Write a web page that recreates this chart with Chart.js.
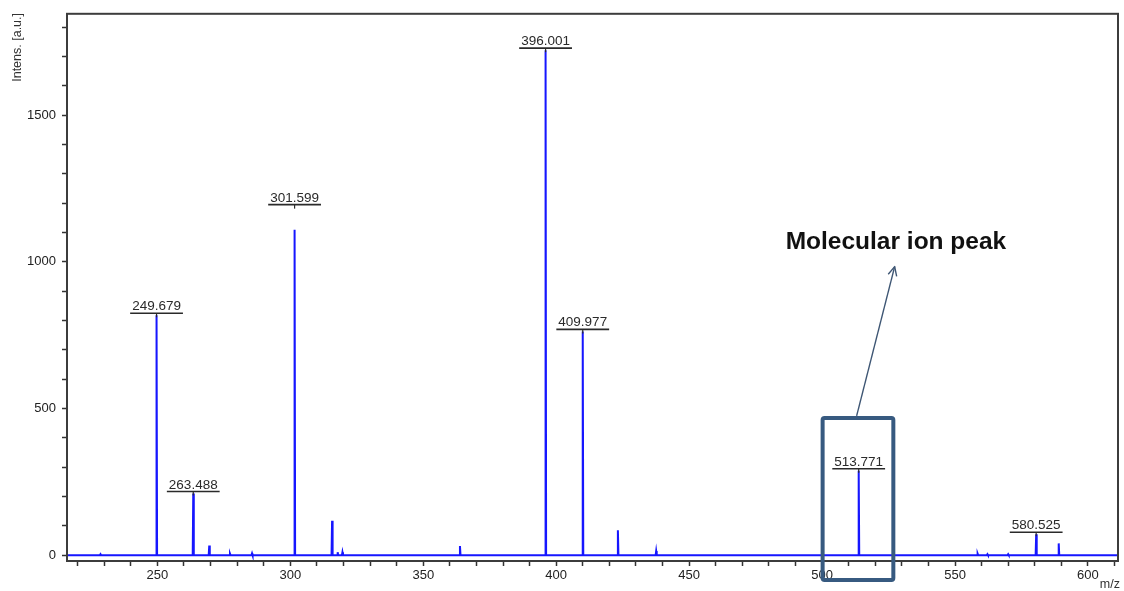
<!DOCTYPE html>
<html>
<head>
<meta charset="utf-8">
<script src="https://cdn.jsdelivr.net/npm/chart.js@4/dist/chart.umd.min.js"></script>
<style>
  html, body { margin: 0; padding: 0; background: #fff; }
  #wrap { width: 1124px; height: 591px; position: relative; }
</style>
</head>
<body>
<div id="wrap"><canvas id="spectrum"></canvas></div>
<script>
'use strict';

// Peaks (m/z, intensity in a.u.)
var peakMz        = [228.6, 249.679, 263.488, 269.5, 277.3, 285.6, 301.599, 315.7, 317.8, 319.6, 363.8, 396.001, 409.977, 423.2, 437.6, 513.771, 558.5, 562.2, 570.0, 580.525, 589.0];
var peakIntensity = [3,     818,     210,     33,    5,     6,     1110,    117,   10,    10,    31,    1722,    763,     85,    14,    288,     5,     3,     3,     71,      40];

// Labelled peaks
var labelMz   = [249.679, 263.488, 301.599, 396.001, 409.977, 513.771, 580.525];
var labelText = ['249.679', '263.488', '301.599', '396.001', '409.977', '513.771', '580.525'];

// Axis ranges and tick labels
var mzRange  = [216, 611.3];
var intRange = [-20, 1846];
var xTickLabels = [250, 300, 350, 400, 450, 500, 550, 600];
var yTickLabels = [0, 500, 1000, 1500];

function intensityAt(mz) {
  var i = peakMz.indexOf(mz);
  return i < 0 ? 0 : peakIntensity[i];
}

// stick spectrum: baseline with narrow spikes at each peak
function buildSpectrum() {
  var pts = [{ x: mzRange[0], y: 0 }];
  peakMz.forEach(function(m, i) {
    pts.push({ x: m - 0.2, y: 0 });
    pts.push({ x: m, y: peakIntensity[i] });
    pts.push({ x: m + 0.2, y: 0 });
  });
  pts.push({ x: mzRange[1], y: 0 });
  return pts;
}

var spectrumDecor = {
  id: 'spectrumDecor',
  afterDatasetsDraw: function(chart) {
    var ctx = chart.ctx, xs = chart.scales.x, ys = chart.scales.y, a = chart.chartArea;

    // peak labels with underline + small stem
    ctx.save();
    ctx.font = '13.5px "Liberation Sans", Arial, sans-serif';
    ctx.fillStyle = '#2a2a2a';
    ctx.strokeStyle = '#2a2a2a';
    ctx.textAlign = 'center';
    ctx.textBaseline = 'alphabetic';
    labelMz.forEach(function(m, i) {
      var px = xs.getPixelForValue(m);
      var py = ys.getPixelForValue(intensityAt(m));
      var lift = m === 301.599 ? 23 : 0;
      var uy = py - 2 - lift;
      var w = ctx.measureText(labelText[i]).width + 4;
      ctx.lineWidth = 1.6;
      ctx.beginPath();
      ctx.moveTo(px - w / 2, uy);
      ctx.lineTo(px + w / 2, uy);
      ctx.stroke();
      ctx.lineWidth = 1.2;
      ctx.beginPath();
      ctx.moveTo(px, uy);
      ctx.lineTo(px, uy + 4);
      ctx.stroke();
      ctx.fillText(labelText[i], px, uy - 3);
    });
    ctx.restore();

    // frame
    ctx.save();
    ctx.strokeStyle = '#3c3c3c';
    ctx.lineWidth = 2;
    ctx.strokeRect(a.left, a.top, a.right - a.left, a.bottom - a.top);
    ctx.restore();

    // axis titles
    ctx.save();
    ctx.font = '12.5px "Liberation Sans", Arial, sans-serif';
    ctx.fillStyle = '#333';
    ctx.textAlign = 'right';
    ctx.textBaseline = 'middle';
    ctx.fillText('m/z', 1120, 585);
    ctx.translate(18, 13);
    ctx.rotate(-Math.PI / 2);
    ctx.fillText('Intens. [a.u.]', 0, 0);
    ctx.restore();
  },
  afterDraw: function(chart) {
    // callout: box around molecular ion peak, arrow and caption
    var ctx = chart.ctx, xs = chart.scales.x, ys = chart.scales.y;
    var bx0 = xs.getPixelForValue(500.2), bx1 = xs.getPixelForValue(526.8);
    var by0 = ys.getPixelForValue(468), by1 = ys.getPixelForValue(-85);
    ctx.save();
    ctx.strokeStyle = '#375a80';
    ctx.lineWidth = 4;
    ctx.lineJoin = 'round';
    ctx.beginPath();
    ctx.roundRect(bx0, by0, bx1 - bx0, by1 - by0, 2);
    ctx.stroke();

    var sx = xs.getPixelForValue(513.0), sy = by0 - 2;
    var tx = xs.getPixelForValue(527.3), ty = ys.getPixelForValue(984);
    ctx.strokeStyle = '#3e5674';
    ctx.lineWidth = 1.4;
    ctx.beginPath();
    ctx.moveTo(sx, sy);
    ctx.lineTo(tx, ty);
    ctx.stroke();
    var ang = Math.atan2(ty - sy, tx - sx);
    ctx.beginPath();
    ctx.moveTo(tx - 10 * Math.cos(ang - 0.45), ty - 10 * Math.sin(ang - 0.45));
    ctx.lineTo(tx, ty);
    ctx.lineTo(tx - 10 * Math.cos(ang + 0.45), ty - 10 * Math.sin(ang + 0.45));
    ctx.stroke();

    ctx.font = 'bold 24.5px "Liberation Sans", Arial, sans-serif';
    ctx.fillStyle = '#111';
    ctx.textAlign = 'left';
    ctx.textBaseline = 'alphabetic';
    ctx.fillText('Molecular ion peak', xs.getPixelForValue(486.3), ys.getPixelForValue(1045));
    ctx.restore();
  }
};

new Chart(document.getElementById('spectrum'), {
  type: 'line',
  data: {
    datasets: [{
      data: buildSpectrum(),
      borderColor: '#1616ff',
      borderWidth: 2,
      pointRadius: 0,
      tension: 0,
      fill: false
    }]
  },
  options: {
    responsive: true,
    maintainAspectRatio: false,
    animation: false,
    events: [],
    layout: { padding: { left: 0, top: 11, right: 6, bottom: 0 } },
    plugins: { legend: { display: false }, tooltip: { enabled: false } },
    scales: {
      x: {
        type: 'linear',
        min: mzRange[0],
        max: mzRange[1],
        afterBuildTicks: function(scale) {
          var t = [];
          for (var v = 220; v <= 610; v += 10) t.push({ value: v });
          scale.ticks = t;
        },
        afterFit: function(scale) { scale.height = 30; },
        grid: { drawOnChartArea: false, tickLength: 5, color: '#333', tickWidth: 1.5 },
        border: { display: false },
        ticks: {
          autoSkip: false,
          maxRotation: 0,
          padding: 2,
          color: '#222',
          font: { family: '"Liberation Sans", Arial, sans-serif', size: 13 },
          callback: function(v) { return xTickLabels.indexOf(v) >= 0 ? String(v) : ''; }
        }
      },
      y: {
        min: intRange[0],
        max: intRange[1],
        afterBuildTicks: function(scale) {
          var t = [];
          for (var v = 0; v <= 1800; v += 100) t.push({ value: v });
          scale.ticks = t;
        },
        afterFit: function(scale) { scale.width = 67; },
        grid: { drawOnChartArea: false, tickLength: 5, color: '#333', tickWidth: 1.5 },
        border: { display: false },
        ticks: {
          autoSkip: false,
          padding: 6,
          color: '#222',
          font: { family: '"Liberation Sans", Arial, sans-serif', size: 13 },
          callback: function(v) { return yTickLabels.indexOf(v) >= 0 ? String(v) : ''; }
        }
      }
    }
  },
  plugins: [spectrumDecor]
});
</script>
</body>
</html>
